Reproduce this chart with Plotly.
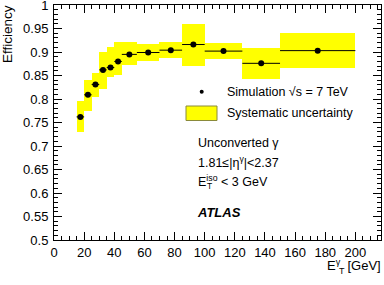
import plotly.graph_objects as go

# Data
bin_lo = [15, 20, 25, 30, 35, 40, 45, 55, 70, 85, 100, 125, 150]
bin_hi = [20, 25, 30, 35, 40, 45, 55, 70, 85, 100, 125, 150, 200]
eff = [0.762, 0.809, 0.831, 0.862, 0.867, 0.880, 0.895, 0.899, 0.904, 0.916, 0.902, 0.876, 0.903]
syst_lo = [0.729, 0.775, 0.805, 0.821, 0.847, 0.852, 0.872, 0.880, 0.888, 0.871, 0.885, 0.843, 0.865]
syst_hi = [0.795, 0.841, 0.856, 0.901, 0.911, 0.921, 0.922, 0.917, 0.921, 0.960, 0.920, 0.908, 0.940]

centers = [(a + b) / 2 for a, b in zip(bin_lo, bin_hi)]
widths = [b - a for a, b in zip(bin_lo, bin_hi)]
half = [w / 2 for w in widths]

FONT = "Liberation Sans, Arial, Helvetica, sans-serif"

fig = go.Figure()
fig.add_trace(go.Bar(
    x=centers, y=[h - l for h, l in zip(syst_hi, syst_lo)], base=syst_lo,
    width=widths, marker=dict(color="#ffff00", line=dict(width=0)),
    showlegend=False, hoverinfo="skip"))
fig.add_trace(go.Scatter(
    x=centers, y=eff, mode="markers",
    marker=dict(color="black", size=6, symbol="circle"),
    error_x=dict(type="data", array=half, color="black", thickness=1, width=0),
    showlegend=False))

# plot area in pixels: x 54-381, y 5-240
def px(x):
    return (x - 54) / 327.0

def py(y):
    return (240 - y) / 235.0

shapes = [
    dict(type="circle", xref="paper", yref="paper",
         x0=px(199.7), x1=px(203.7), y0=py(93.7), y1=py(89.7),
         fillcolor="black", line=dict(width=0)),
    dict(type="rect", xref="paper", yref="paper",
         x0=px(186), x1=px(217), y0=py(120.5), y1=py(106),
         fillcolor="#ffff00", line=dict(color="#8a8a3a", width=1)),
]

tf = dict(family=FONT, size=12.5, color="black")
annotations = [
    dict(text="Simulation \u221as = 7 TeV", x=px(225), y=py(92)),
    dict(text="Systematic uncertainty", x=px(225), y=py(113)),
    dict(text="Unconverted \u03b3", x=px(196), y=py(143)),
    dict(text="1.81\u2264|\u03b7<sup>\u03b3</sup>|<2.37", x=px(196), y=py(162)),
    dict(text="E<sup>iso</sup> < 3 GeV", x=px(196), y=py(181)),
]
annotations = [dict(a, xref="paper", yref="paper", xanchor="left", yanchor="middle",
                    showarrow=False, font=tf) for a in annotations]
annotations += [
    dict(text="T", x=px(204.5), y=py(186), xref="paper", yref="paper", xanchor="left",
         yanchor="middle", showarrow=False, font=dict(family=FONT, size=8.5, color="black")),
    dict(text="<b><i>ATLAS</i></b>", x=px(195), y=py(212), xref="paper", yref="paper",
         xanchor="left", yanchor="middle", showarrow=False,
         font=dict(family=FONT, size=13, color="black")),
    dict(text="E<sup>\u03b3</sup>  [GeV]", x=px(383), y=py(265), xref="paper",
         yref="paper", xanchor="right", yanchor="middle", showarrow=False,
         font=dict(family=FONT, size=13, color="black")),
    dict(text="T", x=px(336.5), y=py(271), xref="paper", yref="paper", xanchor="left",
         yanchor="middle", showarrow=False, font=dict(family=FONT, size=9, color="black")),
    dict(text="Efficiency", x=px(7), y=py(3), xref="paper", yref="paper",
         xanchor="center", yanchor="top", textangle=-90, showarrow=False,
         font=dict(family=FONT, size=13.5, color="black")),
]

axis_common = dict(
    showgrid=False, zeroline=False, showline=True, linecolor="black", linewidth=1,
    mirror="allticks", ticks="inside", ticklen=8, tickcolor="black", tickwidth=1,
    tickfont=dict(family=FONT, size=13, color="black"), automargin=False,
    ticklabeloverflow="allow",
)

fig.update_layout(
    template="none",
    width=384, height=285,
    margin=dict(l=54, r=3, t=5, b=45),
    paper_bgcolor="white", plot_bgcolor="white",
    xaxis=dict(axis_common, range=[0, 217], dtick=20, tick0=0,
               minor=dict(dtick=5, ticks="inside", ticklen=4, tickcolor="black", showgrid=False)),
    yaxis=dict(axis_common, range=[0.5, 1.0001], dtick=0.05, tick0=0.5,
               tickformat="~g", ticklabelstandoff=2,
               minor=dict(dtick=0.01, ticks="inside", ticklen=4, tickcolor="black", showgrid=False)),
    shapes=shapes, annotations=annotations, bargap=0, showlegend=False,
)

fig.write_html("out.html", config={"displayModeBar": False},
               post_script="document.body.style.margin='0px';document.body.style.overflow='hidden';")
